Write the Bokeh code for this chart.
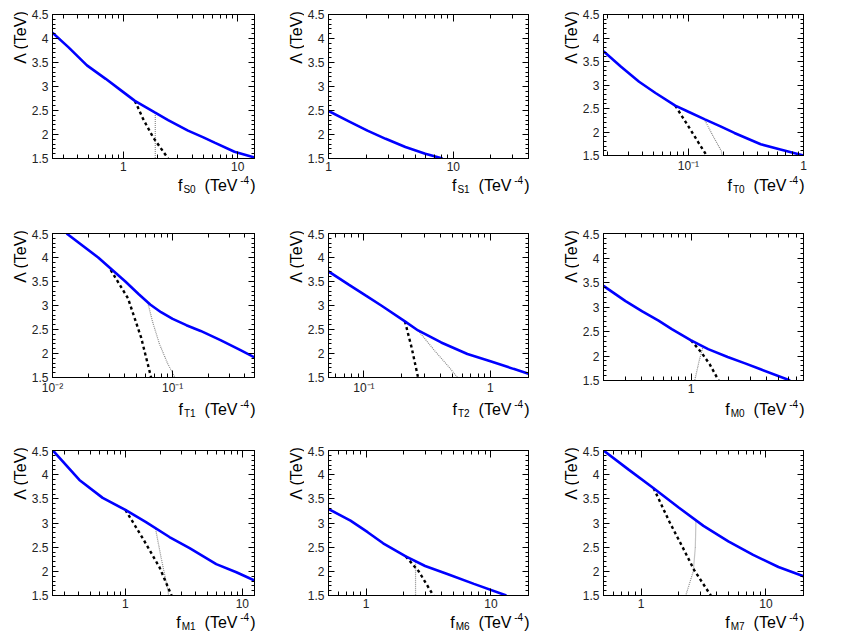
import math
from bokeh.plotting import figure
from bokeh.models import (Range1d, FixedTicker, SingleIntervalTicker, LogAxis, LinearAxis,
                          CustomJSTickFormatter, Label)
from bokeh.layouts import column, row
from bokeh.embed import file_html
from bokeh.resources import INLINE

# ---------------- data ----------------
S0_range = [0.24, 14.0]
S0_blue_x = [0.24, 0.33, 0.48, 0.70, 0.94, 1.26, 1.88, 2.46, 3.67, 5.0, 6.27, 9.35, 14.0]
S0_blue_y = [4.12, 3.82, 3.44, 3.16, 2.93, 2.70, 2.46, 2.30, 2.08, 1.94, 1.83, 1.64, 1.52]
S0_dash_x = [1.26, 1.49, 1.82, 2.46]
S0_dash_y = [2.70, 2.32, 1.94, 1.50]
S0_dot_x = [1.90, 1.90]
S0_dot_y = [2.45, 1.50]

S1_range = [1.0, 40.0]
S1_blue_x = [1.0, 1.47, 2.05, 2.87, 4.13, 5.96, 8.2]
S1_blue_y = [2.49, 2.27, 2.08, 1.91, 1.74, 1.60, 1.50]
S1_dash_x = []
S1_dash_y = []
S1_dot_x = []
S1_dot_y = []

T0_range = [0.0183, 1.0]
T0_blue_x = [0.0183, 0.026, 0.0373, 0.0518, 0.0769, 0.1, 0.139, 0.19, 0.251, 0.425, 0.63, 1.0]
T0_blue_y = [3.72, 3.39, 3.07, 2.83, 2.56, 2.43, 2.27, 2.12, 1.98, 1.74, 1.63, 1.50]
T0_dash_x = [0.0769, 0.1, 0.122, 0.144]
T0_dash_y = [2.56, 2.12, 1.78, 1.50]
T0_dot_x = [0.137, 0.164, 0.193, 0.196]
T0_dot_y = [2.28, 1.91, 1.60, 1.50]

T1_range = [0.01, 0.48]
T1_blue_x = [0.0131, 0.024, 0.0404, 0.052, 0.065, 0.08, 0.1, 0.13, 0.171, 0.25, 0.367, 0.48]
T1_blue_y = [4.50, 4.00, 3.50, 3.24, 3.02, 2.86, 2.72, 2.59, 2.47, 2.28, 2.07, 1.92]
T1_dash_x = [0.0305, 0.0425, 0.0547, 0.0662]
T1_dash_y = [3.74, 3.15, 2.33, 1.50]
T1_dot_x = [0.0621, 0.0679, 0.0776, 0.0909, 0.1045]
T1_dot_y = [3.06, 2.67, 2.20, 1.79, 1.50]

T2_range = [0.0525, 2.0]
T2_blue_x = [0.0525, 0.0764, 0.103, 0.139, 0.211, 0.268, 0.408, 0.658, 1.0, 1.52, 2.0]
T2_blue_y = [3.71, 3.43, 3.21, 2.99, 2.67, 2.48, 2.23, 1.99, 1.84, 1.68, 1.58]
T2_dash_x = [0.211, 0.238, 0.268]
T2_dash_y = [2.67, 2.13, 1.50]
T2_dot_x = [0.268, 0.362, 0.459, 0.55]
T2_dot_y = [2.48, 2.06, 1.75, 1.50]

M0_range = [0.2, 7.9]
M0_blue_x = [0.2, 0.3, 0.408, 0.55, 0.702, 1.0, 1.37, 1.96, 2.7, 3.59, 6.18]
M0_blue_y = [3.43, 3.12, 2.91, 2.72, 2.55, 2.32, 2.14, 1.98, 1.85, 1.73, 1.50]
M0_dash_x = [1.0, 1.21, 1.41, 1.66]
M0_dash_y = [2.32, 2.07, 1.83, 1.50]
M0_dot_x = [1.25, 1.16, 1.07]
M0_dot_y = [2.20, 1.90, 1.50]

M1_range = [0.238, 12.7]
M1_blue_x = [0.24, 0.404, 0.639, 1.0, 1.5, 2.38, 3.54, 5.98, 8.89, 12.7]
M1_blue_y = [4.50, 3.89, 3.52, 3.27, 3.02, 2.71, 2.48, 2.15, 1.98, 1.81]
M1_dash_x = [1.0, 1.41, 1.96, 2.48]
M1_dash_y = [3.27, 2.68, 2.08, 1.50]
M1_dot_x = [1.81, 2.02, 2.31, 2.34]
M1_dot_y = [2.88, 2.28, 1.61, 1.50]

M6_range = [0.5, 20.0]
M6_blue_x = [0.5, 0.75, 1.03, 1.37, 2.08, 2.97, 4.53, 7.31, 13.3]
M6_blue_y = [3.29, 3.05, 2.81, 2.58, 2.31, 2.11, 1.94, 1.74, 1.50]
M6_dash_x = [2.08, 2.64, 3.46]
M6_dash_y = [2.31, 2.00, 1.50]
M6_dot_x = [2.49, 2.49]
M6_dot_y = [2.20, 1.50]

M7_range = [0.5, 20.0]
M7_blue_x = [0.5, 0.79, 1.26, 2.0, 3.16, 5.0, 7.9, 12.6, 20.0]
M7_blue_y = [4.50, 4.11, 3.72, 3.32, 2.94, 2.62, 2.34, 2.09, 1.90]
M7_dash_x = [1.26, 1.69, 2.16, 2.67, 3.62]
M7_dash_y = [3.72, 3.02, 2.49, 2.02, 1.50]
M7_dot_x = [2.75, 2.72, 2.62, 2.28]
M7_dot_y = [3.05, 2.50, 2.00, 1.50]

Y_RANGE = [1.5, 4.5]
Y_TITLE = "Λ (TeV)"
X_TITLE_F = "f"
X_TITLE_UNIT = "(TeV"
X_TITLE_EXP = "-4"
X_TITLE_CLOSE = ")"

PANELS = [
    ("S0", S0_range, S0_blue_x, S0_blue_y, S0_dash_x, S0_dash_y, S0_dot_x, S0_dot_y),
    ("S1", S1_range, S1_blue_x, S1_blue_y, S1_dash_x, S1_dash_y, S1_dot_x, S1_dot_y),
    ("T0", T0_range, T0_blue_x, T0_blue_y, T0_dash_x, T0_dash_y, T0_dot_x, T0_dot_y),
    ("T1", T1_range, T1_blue_x, T1_blue_y, T1_dash_x, T1_dash_y, T1_dot_x, T1_dot_y),
    ("T2", T2_range, T2_blue_x, T2_blue_y, T2_dash_x, T2_dash_y, T2_dot_x, T2_dot_y),
    ("M0", M0_range, M0_blue_x, M0_blue_y, M0_dash_x, M0_dash_y, M0_dot_x, M0_dot_y),
    ("M1", M1_range, M1_blue_x, M1_blue_y, M1_dash_x, M1_dash_y, M1_dot_x, M1_dot_y),
    ("M6", M6_range, M6_blue_x, M6_blue_y, M6_dash_x, M6_dash_y, M6_dot_x, M6_dot_y),
    ("M7", M7_range, M7_blue_x, M7_blue_y, M7_dash_x, M7_dash_y, M7_dot_x, M7_dot_y),
]

# ---------------- layout / style ----------------
# per column: y-title strip width, plot border left, frame width, border right
COLS = [(28, 22, 204, 30), (20, 22, 202, 30), (21, 22, 202, 30)]
# per row: border top, frame height, border bottom, x-title strip height, baseline from strip top, tick standoff
ROWS = [(14, 144, 17, 54, 10, 3), (4, 147, 17, 49, 12, 3), (4, 145, 17, 22, 10, 3)]
FONT = "Liberation Sans"
BIG, SMALL, YT = 16, 10, 16
SUP_RAISE, SUB_DROP = 6, 4

CW = {'f': 278, 'S': 667, 'T': 611, 'M': 833, ' ': 278, '(': 333, ')': 333,
      'e': 556, 'V': 667, '-': 333, 'Λ': 667}


def tw(s, size):
    return sum(CW.get(c, 556) for c in s) * size / 1000.0


LOG_FMT = CustomJSTickFormatter(code="""
const e = Math.round(Math.log10(tick));
if (e < 0) {
  const m = {"-": "\\u207b", "0": "\\u2070", "1": "\\u00b9", "2": "\\u00b2", "3": "\\u00b3"};
  return "10" + String(e).split("").map(c => m[c]).join("");
}
return String(Math.round(tick));
""")
LIN_FMT = CustomJSTickFormatter(code="return String(Math.round(tick*10)/10);")
EMPTY_FMT = CustomJSTickFormatter(code="return '';")


def log_ticks(lo, hi):
    major, minor = [], []
    for e in range(math.floor(math.log10(lo)) - 1, math.ceil(math.log10(hi)) + 1):
        d = 10.0 ** e
        if lo * 0.999 <= d <= hi * 1.001:
            major.append(d)
        for k in range(2, 10):
            v = k * d
            if lo <= v <= hi:
                minor.append(v)
    return major, minor


def style_axis(ax, tick_major, tick_minor):
    ax.axis_line_color = "black"
    ax.major_tick_line_color = "black"
    ax.minor_tick_line_color = "black"
    ax.major_tick_in = tick_major
    ax.major_tick_out = 0
    ax.minor_tick_in = tick_minor
    ax.minor_tick_out = 0


def strip(width, height):
    s = figure(width=width, height=height, x_range=Range1d(0, 1), y_range=Range1d(0, 1),
               title=None,
               min_border_left=0, min_border_right=0, min_border_top=0, min_border_bottom=0,
               x_axis_location=None, y_axis_location=None, frame_align=False,
               toolbar_location=None, output_backend="svg")
    s.outline_line_color = None
    s.grid.visible = False
    s.background_fill_color = "white"
    s.border_fill_color = "white"
    return s


def add_text(p, text, x, y, size, angle=0.0, align="left", baseline="alphabetic"):
    p.add_layout(Label(x=x, y=y, x_units="screen", y_units="screen", text=text,
                       text_font=FONT, text_font_size=f"{size}px", text_color="black",
                       angle=angle, text_align=align, text_baseline=baseline))


def make_panel(idx, panel):
    name, xr, bx, by, dx, dy, gx, gy = panel
    c, r = idx % 3, idx // 3
    SW, L, FW, R = COLS[c]
    T, FH, B, S, BASE, STAND = ROWS[r]
    p = figure(width=L + FW + R, height=T + FH + B, x_axis_type="log",
               x_range=Range1d(xr[0], xr[1]), y_range=Range1d(Y_RANGE[0], Y_RANGE[1]),
               output_backend="svg", toolbar_location=None, frame_align=False,
               min_border_left=L, min_border_right=R, min_border_top=T, min_border_bottom=B)
    p.xgrid.visible = False
    p.ygrid.visible = False
    p.outline_line_color = "black"
    p.outline_line_width = 1
    p.background_fill_color = "white"
    p.border_fill_color = "white"

    major, minor = log_ticks(xr[0], xr[1])
    xa = p.xaxis[0]
    xa.ticker = FixedTicker(ticks=major, minor_ticks=minor)
    xa.formatter = LOG_FMT
    xa.major_label_text_font = FONT
    xa.major_label_text_font_size = "12px"
    xa.major_label_text_color = "#222222"
    xa.major_label_standoff = STAND
    style_axis(xa, 7, 4)

    ya = p.yaxis[0]
    ya.ticker = SingleIntervalTicker(interval=0.5, num_minor_ticks=5)
    ya.formatter = LIN_FMT
    ya.major_label_text_font = FONT
    ya.major_label_text_font_size = "12px"
    ya.major_label_text_color = "#222222"
    ya.major_label_standoff = 4
    style_axis(ya, 6, 3)

    top = LogAxis(ticker=FixedTicker(ticks=major, minor_ticks=minor), formatter=EMPTY_FMT,
                  major_label_text_font_size="1px", major_label_standoff=0)
    style_axis(top, 7, 4)
    p.add_layout(top, "above")
    right = LinearAxis(ticker=SingleIntervalTicker(interval=0.5, num_minor_ticks=5),
                       formatter=EMPTY_FMT, major_label_text_font_size="1px",
                       major_label_standoff=0)
    style_axis(right, 6, 3)
    p.add_layout(right, "right")

    if gx:
        p.line(gx, gy, line_color="#8a8a8a", line_width=1.2, line_dash="1 1")
    if dx:
        p.line(dx, dy, line_color="black", line_width=2.4, line_dash="3 3")
    p.line(bx, by, line_color="#0000ff", line_width=2.6)

    total_h = T + FH + B + S

    # y title strip (rotated text, its top end a little above the frame top)
    ys = strip(SW, total_h)
    half = tw(Y_TITLE, YT) / 2.0
    add_text(ys, Y_TITLE, SW + L - 30, total_h - (T - 5 + half), YT, angle=math.pi / 2,
             align="center", baseline="middle")

    # x title strip: f_{name} (TeV^{-4}), right end at the frame's right edge
    xs = strip(L + FW + R, S)
    base = S - BASE
    x = L + FW + 1
    x -= tw(X_TITLE_CLOSE, BIG)
    add_text(xs, X_TITLE_CLOSE, x, base, BIG)
    x -= tw(X_TITLE_EXP, SMALL) + 1
    add_text(xs, X_TITLE_EXP, x, base + SUP_RAISE, SMALL)
    x -= tw(X_TITLE_UNIT, BIG) + 1
    add_text(xs, X_TITLE_UNIT, x, base, BIG)
    x -= 9
    x -= tw(name, SMALL)
    add_text(xs, name, x, base - SUB_DROP, SMALL)
    x -= tw(X_TITLE_F, BIG) + 1
    add_text(xs, X_TITLE_F, x, base, BIG)

    return row(ys, column(p, xs))


panels = [make_panel(i, pn) for i, pn in enumerate(PANELS)]
layout = column(row(*panels[0:3]), row(*panels[3:6]), row(*panels[6:9]))

open("out.html", "w").write(file_html(layout, INLINE))
